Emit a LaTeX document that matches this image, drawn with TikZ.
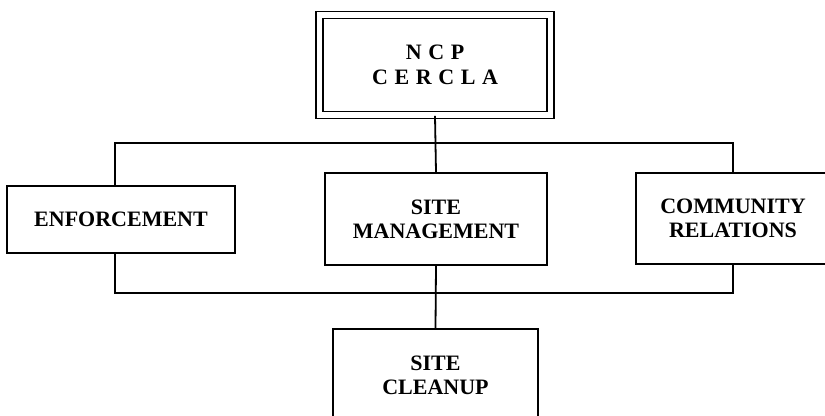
\documentclass[tikz,border=0pt]{standalone}
\usepackage{fontspec}
\setmainfont{Liberation Serif}
\begin{document}
\begin{tikzpicture}[x=0.5pt, y=-0.5pt,
    unit/.style={draw, line width=0.9pt, fill=white, align=center, inner sep=0pt,
      font=\fontsize{11}{12}\selectfont\bfseries},
    link/.style={draw, line width=0.9pt}]
       \useasboundingbox (0,0) rectangle (825,416);
       \coordinate (topbus) at (435,143);
       \coordinate (botbus) at (435,293);
       \node[unit, double, double distance=2.6pt, minimum width=115.5pt, minimum height=50pt,
             font=\fontsize{11}{12.5}\selectfont\bfseries\addfontfeature{LetterSpace=30}]
             (ncp) at (435,65) {NCP\\CERCLA};
       \node[unit, minimum width=114pt, minimum height=33.5pt] (enf) at (121,219.5) {ENFORCEMENT};
       \node[unit, minimum width=111pt, minimum height=46pt] (mgmt) at (436,219) {SITE\\MANAGEMENT};
       \node[unit, minimum width=97pt, minimum height=45.5pt] (comm) at (733,218.5) {COMMUNITY\\RELATIONS};
       \node[unit, minimum width=102.5pt, minimum height=46pt] (clean) at (435.5,375) {SITE\\CLEANUP};
       \path[link] ([xshift=-3pt]enf.north) |- (topbus) -| (comm.north);
       \path[link] ([xshift=-3pt]enf.south) |- (botbus) -| (comm.south);
       \path[link] (ncp.south) -- (mgmt.north);
       \path[link] (mgmt.south) -- (clean.north);
       \end{tikzpicture}
\end{document}
